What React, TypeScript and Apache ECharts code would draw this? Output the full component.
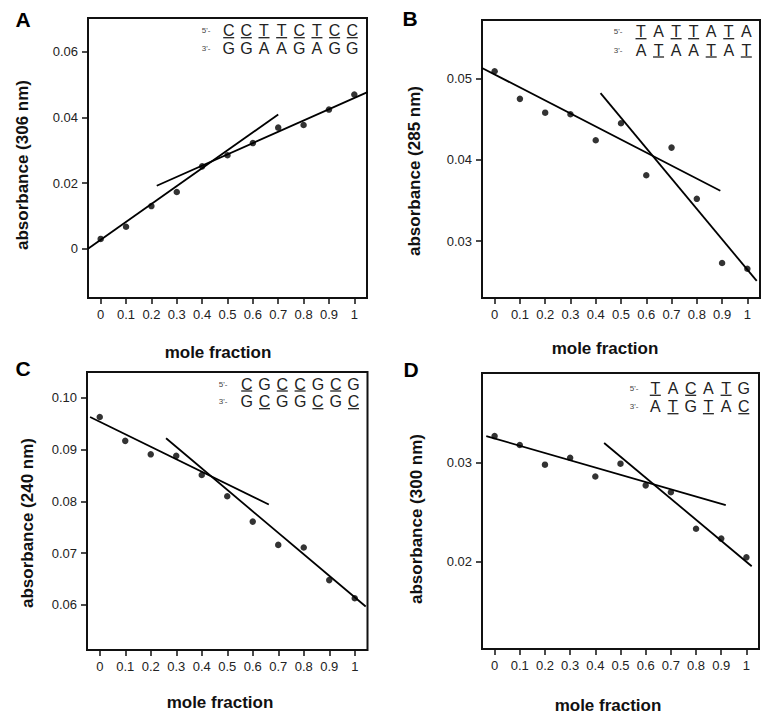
import React, { useEffect, useRef } from "react";
import * as echarts from "echarts";

// ---------- data ----------
const moleFraction = [0, 0.1, 0.2, 0.3, 0.4, 0.5, 0.6, 0.7, 0.8, 0.9, 1];
const xTickValues = [0, 0.1, 0.2, 0.3, 0.4, 0.5, 0.6, 0.7, 0.8, 0.9, 1];

const absA = [0.003, 0.0067, 0.013, 0.0173, 0.0251, 0.0285, 0.0322, 0.0369, 0.0377, 0.0424, 0.047];
const fitA1 = [[-0.05, 0.0], [0.7, 0.0409]];
const fitA2 = [[0.221, 0.0192], [1.052, 0.0477]];
const yTicksA = [0, 0.02, 0.04, 0.06];

const absB = [0.0509, 0.0475, 0.0458, 0.0456, 0.0424, 0.0445, 0.0381, 0.0415, 0.0352, 0.0273, 0.0266];
const fitB1 = [[-0.05, 0.0513], [0.893, 0.0362]];
const fitB2 = [[0.419, 0.0482], [1.037, 0.0251]];
const yTicksB = [0.03, 0.04, 0.05];

const absC = [0.0963, 0.0917, 0.0891, 0.0888, 0.0851, 0.081, 0.0761, 0.0716, 0.0711, 0.0648, 0.0613];
const fitC1 = [[-0.038, 0.0963], [0.663, 0.0794]];
const fitC2 = [[0.26, 0.0922], [1.043, 0.0597]];
const yTicksC = [0.06, 0.07, 0.08, 0.09, 0.1];

const absD = [0.0327, 0.0318, 0.0298, 0.0305, 0.0286, 0.0299, 0.0277, 0.027, 0.0233, 0.0223, 0.0204];
const fitD1 = [[-0.033, 0.0327], [0.918, 0.0257]];
const fitD2 = [[0.435, 0.032], [1.021, 0.0195]];
const yTicksD = [0.02, 0.03];

const panelLetters = ["A", "B", "C", "D"];
const yTitles = ["absorbance (306 nm)", "absorbance (285 nm)", "absorbance (240 nm)", "absorbance (300 nm)"];
const xTitle = "mole fraction";
const seqTop = ["CCTTCTCC", "TATTATA", "CGCCGCG", "TACATG"];
const seqBottom = ["GGAAGAGG", "ATAATAT", "GCGGCGC", "ATGTAC"];

// ---------- layout ----------
const FONT = "'Liberation Sans', Arial, Helvetica, sans-serif";
const panels = [
  {
    grid: { left: 88, top: 18, width: 279, height: 280 },
    yMin: -0.015, yMax: 0.0703, abs: absA, fits: [fitA1, fitA2], yTicks: yTicksA,
    letter: [23, 19], yTitle: [22, 165], xTitle: [218, 352],
    seq: { prime: 206, x0: 228.7, dx: 17.65, top: 30.7, bot: 48.5 },
  },
  {
    grid: { left: 482, top: 20, width: 278, height: 278 },
    yMin: 0.023, yMax: 0.0572, abs: absB, fits: [fitB1, fitB2], yTicks: yTicksB,
    letter: [410, 18], yTitle: [414, 171], xTitle: [605, 348],
    seq: { prime: 618, x0: 641, dx: 17.55, top: 31.7, bot: 50 },
  },
  {
    grid: { left: 87, top: 372, width: 280.5, height: 278 },
    yMin: 0.0513, yMax: 0.105, abs: absC, fits: [fitC1, fitC2], yTicks: yTicksC,
    letter: [23, 368], yTitle: [27, 523], xTitle: [220, 702],
    seq: { prime: 223, x0: 246.7, dx: 17.8, top: 384, bot: 401.7 },
  },
  {
    grid: { left: 482, top: 373, width: 277, height: 276 },
    yMin: 0.0111, yMax: 0.0391, abs: absD, fits: [fitD1, fitD2], yTicks: yTicksD,
    letter: [411, 369], yTitle: [416, 519], xTitle: [608, 705],
    seq: { prime: 634, x0: 655.3, dx: 17.7, top: 388.3, bot: 406.7 },
  },
];

function txt(text: string, x: number, y: number, font: string, fill = "#111", rotation = 0) {
  return {
    type: "text",
    x,
    y,
    rotation,
    silent: true,
    style: {
      text,
      font,
      fill,
      align: "center",
      verticalAlign: "middle",
      textAlign: "center",
      textVerticalAlign: "middle",
    },
  };
}

function buildOption() {
  const grids: any[] = [];
  const xAxes: any[] = [];
  const yAxes: any[] = [];
  const series: any[] = [];
  const graphics: any[] = [];

  panels.forEach((p, i) => {
    grids.push({
      ...p.grid,
      show: true,
      borderColor: "#111",
      borderWidth: 2,
      backgroundColor: "transparent",
    });
    xAxes.push({
      type: "value",
      gridIndex: i,
      min: -0.05,
      max: 1.05,
      axisLine: { show: false, onZero: false },
      splitLine: { show: false },
      axisTick: {
        show: true,
        length: 6,
        customValues: xTickValues,
        lineStyle: { color: "#111", width: 1.5 },
      },
      axisLabel: {
        customValues: xTickValues,
        margin: 10,
        color: "#222",
        fontSize: 13,
        fontFamily: FONT,
        formatter: (v: number) => String(Math.round(v * 10) / 10),
      },
    });
    yAxes.push({
      type: "value",
      gridIndex: i,
      min: p.yMin,
      max: p.yMax,
      axisLine: { show: false, onZero: false },
      splitLine: { show: false },
      axisTick: {
        show: true,
        length: 6,
        customValues: p.yTicks,
        lineStyle: { color: "#111", width: 1.5 },
      },
      axisLabel: {
        customValues: p.yTicks,
        margin: 10,
        color: "#222",
        fontSize: 13,
        fontFamily: FONT,
        formatter: (v: number) => (Math.abs(v) < 1e-9 ? "0" : v.toFixed(2)),
      },
    });
    series.push({
      type: "scatter",
      xAxisIndex: i,
      yAxisIndex: i,
      symbol: "circle",
      symbolSize: 6.5,
      itemStyle: { color: "#000" },
      data: moleFraction.map((x, j) => [x, p.abs[j]]),
      z: 3,
    });
    p.fits.forEach((f) => {
      series.push({
        type: "line",
        xAxisIndex: i,
        yAxisIndex: i,
        showSymbol: false,
        symbol: "none",
        lineStyle: { color: "#000", width: 1.8 },
        data: f,
        z: 2,
      });
    });

    // panel letter
    graphics.push(txt(panelLetters[i], p.letter[0], p.letter[1], `bold 21px ${FONT}`, "#000"));
    // axis titles
    graphics.push(txt(yTitles[i], p.yTitle[0], p.yTitle[1], `bold 17px ${FONT}`, "#111", Math.PI / 2));
    graphics.push(txt(xTitle, p.xTitle[0], p.xTitle[1], `bold 17px ${FONT}`, "#111"));
    // sequences
    const s = p.seq;
    graphics.push(txt("5'-", s.prime, s.top, `8px ${FONT}`, "#444"));
    graphics.push(txt("3'-", s.prime, s.bot, `8px ${FONT}`, "#444"));
    const rows = [
      { str: seqTop[i], y: s.top },
      { str: seqBottom[i], y: s.bot },
    ];
    rows.forEach((r) => {
      r.str.split("").forEach((ch, k) => {
        const cx = s.x0 + k * s.dx;
        graphics.push(txt(ch, cx, r.y, `16px ${FONT}`, "#222"));
        if (ch === "C" || ch === "T") {
          graphics.push({
            type: "line",
            silent: true,
            shape: { x1: cx - 5.5, y1: r.y + 7, x2: cx + 5.5, y2: r.y + 7 },
            style: { stroke: "#222", lineWidth: 1.3 },
          });
        }
      });
    });
  });

  return {
    animation: false,
    backgroundColor: "#fff",
    grid: grids,
    xAxis: xAxes,
    yAxis: yAxes,
    series,
    graphic: graphics,
  };
}

export default function App() {
  const ref = useRef<HTMLDivElement>(null);
  useEffect(() => {
    document.body.style.margin = "0";
    const chart = echarts.init(ref.current!, null, { renderer: "svg" });
    chart.setOption(buildOption() as any);
    return () => chart.dispose();
  }, []);
  return <div ref={ref} style={{ width: 774, height: 717 }} />;
}
